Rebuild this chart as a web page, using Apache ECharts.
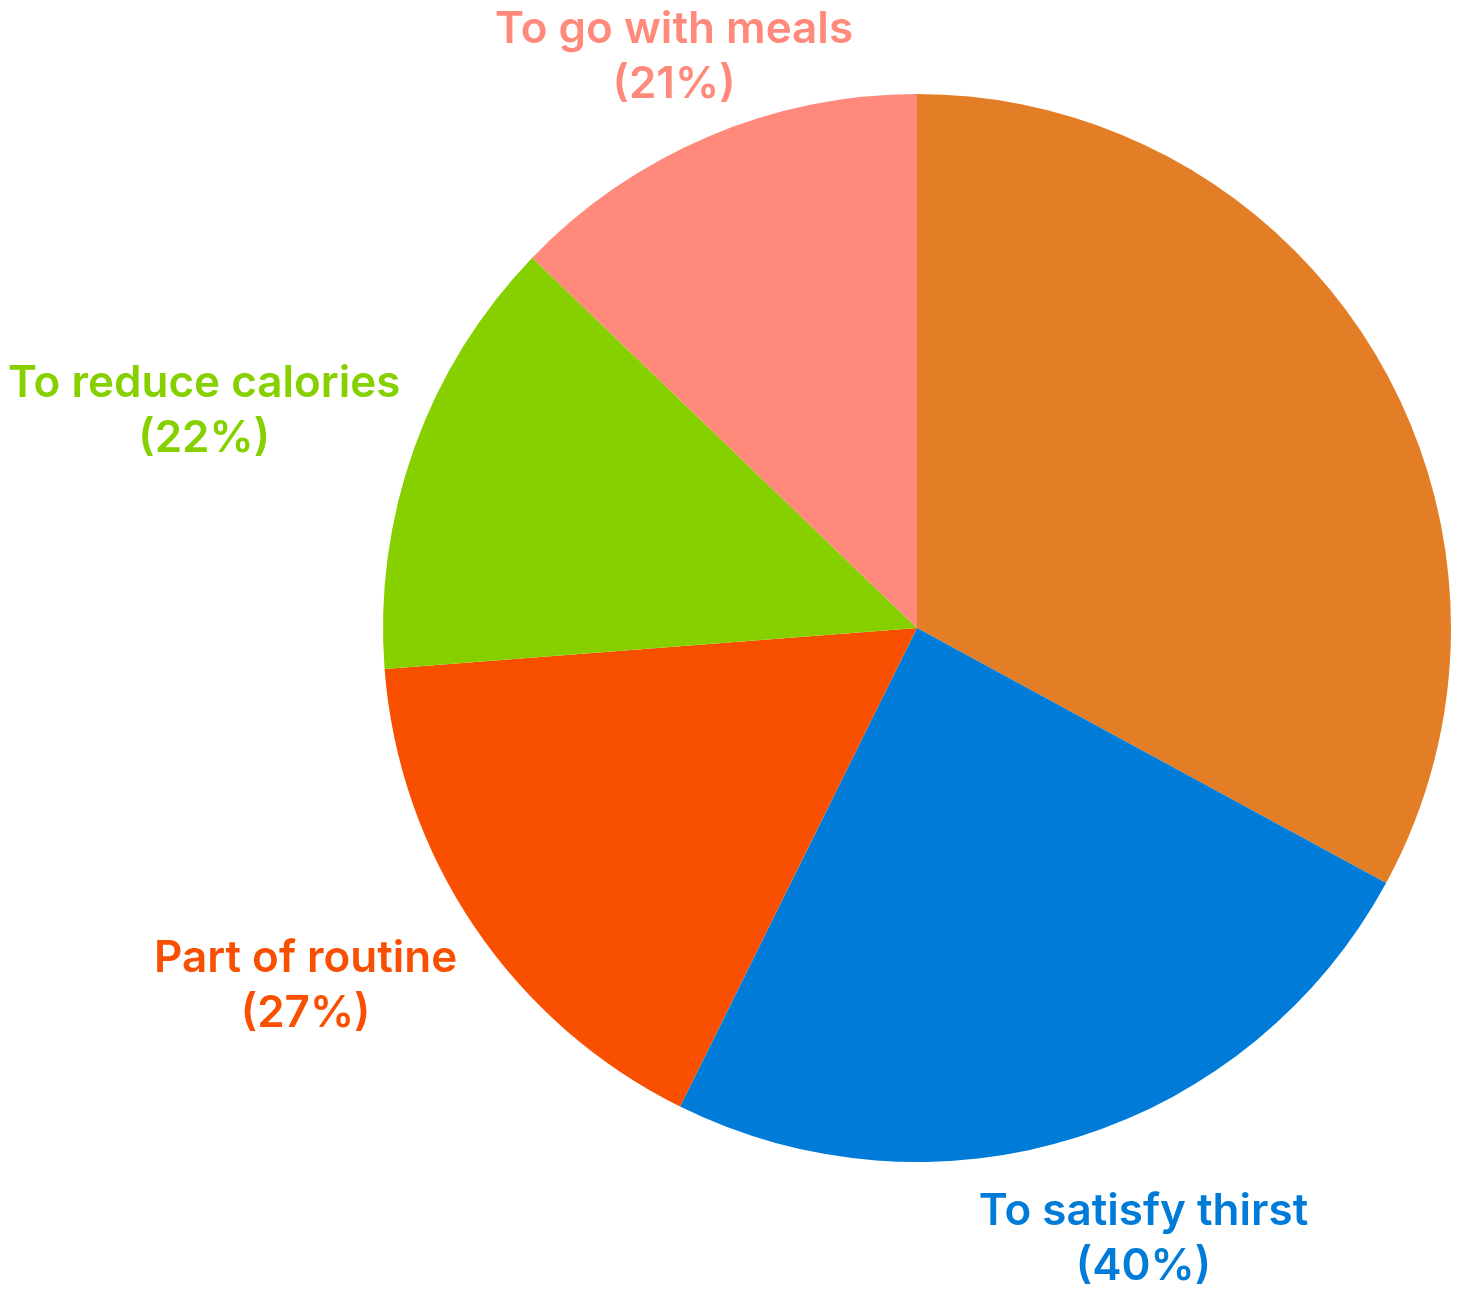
<!DOCTYPE html>
<html>
<head>
<meta charset="utf-8">
<title>Reasons for drinking</title>
<script src="https://cdn.jsdelivr.net/npm/echarts@6/dist/echarts.min.js"></script>
<style>
	html, body { margin: 0; padding: 0; background: #ffffff; }
	#chart { width: 1457px; height: 1289px; }
</style>
</head>
<body>
<div id="chart"></div>
<script>
// slices clockwise from 12 o'clock; the first one carries no label in the picture
var sliceNames = [ 'Other', 'To satisfy thirst', 'Part of routine',
		'To reduce calories', 'To go with meals' ];
var sliceValues = [ 54, 40, 27, 22, 21 ];
var sliceColors = [ '#e37e26', '#007cd8', '#f85000', '#86d000', '#ff897a' ];
var showLabel = [ false, true, true, true, true ];

var pieCenter = [ 917, 628 ];
var pieRadius = 534;

var chart = echarts.init(document.getElementById('chart'));

var buildData = function() {
	var list = [];
	for (var i = 0; i < sliceValues.length; i++) {
		list.push({
			name : sliceNames[i],
			value : sliceValues[i],
			itemStyle : {
				color : sliceColors[i]
			},
			label : {
				show : showLabel[i],
				color : sliceColors[i]
			}
		});
	}
	return list;
};

// put each label just outside the pie on its slice bisector,
// kept inside the canvas
var placeLabel = function(params) {
	var r = params.labelRect;
	var mx = r.x + r.width / 2 - pieCenter[0];
	var my = r.y + r.height / 2 - pieCenter[1];
	var len = Math.sqrt(mx * mx + my * my);
	var ux = mx / len, uy = my / len;
	var hw = r.width / 2, hh = r.height / 2;
	var px = pieCenter[0] + ux * (pieRadius + 52);
	var py = pieCenter[1] + uy * (pieRadius + 52);
	var x = px + ux * hw;
	var y = py + uy * hh;
	var minY = hh + 2;
	if (y < minY) {
		// too high: slide back along the bisector
		var d = (minY - pieCenter[1]) / uy;
		x = pieCenter[0] + ux * d;
		y = minY;
	}
	x = Math.max(hw + 8, Math.min(chart.getWidth() - hw - 8, x));
	return {
		x : x,
		y : y,
		align : 'center',
		verticalAlign : 'middle'
	};
};

var option = {
	animation : false,
	backgroundColor : '#ffffff',
	series : [ {
		type : 'pie',
		center : pieCenter,
		radius : pieRadius,
		startAngle : 90,
		clockwise : true,
		avoidLabelOverlap : false,
		label : {
			position : 'inside',
			formatter : '{b}\n({c}%)',
			fontFamily : 'Inter',
			fontWeight : 600,
			fontSize : 44,
			lineHeight : 55,
			align : 'center'
		},
		labelLine : {
			show : false
		},
		labelLayout : placeLabel,
		emphasis : {
			disabled : true
		},
		data : buildData()
	} ]
};
chart.setOption(option);
</script>
</body>
</html>
